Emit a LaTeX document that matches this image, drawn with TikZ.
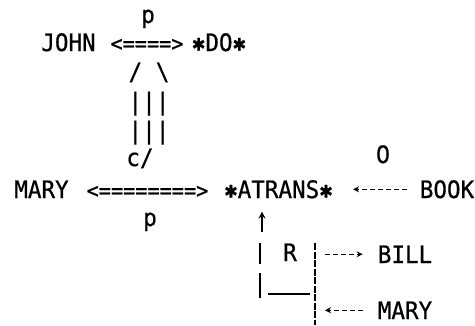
\documentclass[tikz,border=0pt]{standalone}
\usepackage{fontspec}
\newfontfamily\cdtt{DejaVu Sans Mono}[FakeStretch=0.94, FakeBold=0.7]
\newfontfamily\plainsans{DejaVu Sans}[FakeStretch=0.94, FakeBold=0.7]
\usetikzlibrary{arrows.meta}
\newcommand\stx{\makebox[0.566em]{\raisebox{0.02em}{\plainsans\scalebox{0.72}{✱}}}}
\begin{document}
\begin{tikzpicture}[x=1pt,y=-1pt,
  txt/.style={inner sep=0pt, anchor=base, font=\cdtt\fontsize{24}{28}\selectfont},
  link/.style={inner sep=0pt, anchor=base, font=\cdtt\fontsize{21.5}{26}\selectfont},
  bar/.style={line width=1.6pt},
  darr/.style={line width=1.4pt, dash pattern=on 5pt off 3pt, -{Stealth[length=6pt,width=6pt]}},
  sarr/.style={line width=1.6pt, -{Stealth[length=7pt,width=7pt]}}]
\useasboundingbox (0,0) rectangle (475,325);
% top row
\node[txt] (p1) at (148,23) {p};
\node[txt] (john) at (68.5,51) {JOHN};
\node[link] (dbl1) at (147,51) {<====>};
\node[txt] (do) at (219,51) {\stx DO\stx};
\node[txt] (slash) at (149,80) {/ \textbackslash};
\node[txt] (barsa) at (149,110) {|||};
\node[txt] (barsb) at (149,139) {|||};
\node[txt] (c) at (140,166) {c/};
\node[txt] (zero) at (383,163) {{\plainsans 0}};
% middle row
\node[txt] (mary) at (41.5,198) {MARY};
\node[link] (dbl2) at (147.5,198) {<========>};
\node[txt] (atrans) at (278.5,198) {\stx ATRANS\stx};
\node[txt] (book) at (447,198) {BOOK};
\node[txt] (p2) at (150,226) {p};
% recipient box
\node[txt] (R) at (290,261) {R};
\node[txt] (bill) at (405,263) {BILL};
\node[txt] (mary2) at (405,319) {MARY};
\coordinate (tl) at (260,243);
\coordinate (tr) at (315,243);
\coordinate (br) at (315,325);
\coordinate (arrbase) at (262,243);
% connectors
\draw[darr, shorten <=13pt, shorten >=20pt] (book.west) -- (atrans.east);
\draw[sarr, shorten <=11pt, shorten >=13pt] (arrbase) -- (arrbase |- atrans.south);
\draw[bar] (tl) -- ++(0,21);
\draw[bar] (tl) ++(0,30) -- ++(0,25);
\draw[line width=1.8pt] (tl) ++(8,51) -- ++(42,0);
\draw[line width=1.5pt, dash pattern=on 7pt off 1.5pt] (tr) -- (br);
\draw[darr, shorten <=10pt, shorten >=15pt] (tr |- bill.west) -- (bill.west);
\draw[darr, shorten <=15pt, shorten >=10pt] (mary2.west) -- (tr |- mary2.west);
\end{tikzpicture}
\end{document}
